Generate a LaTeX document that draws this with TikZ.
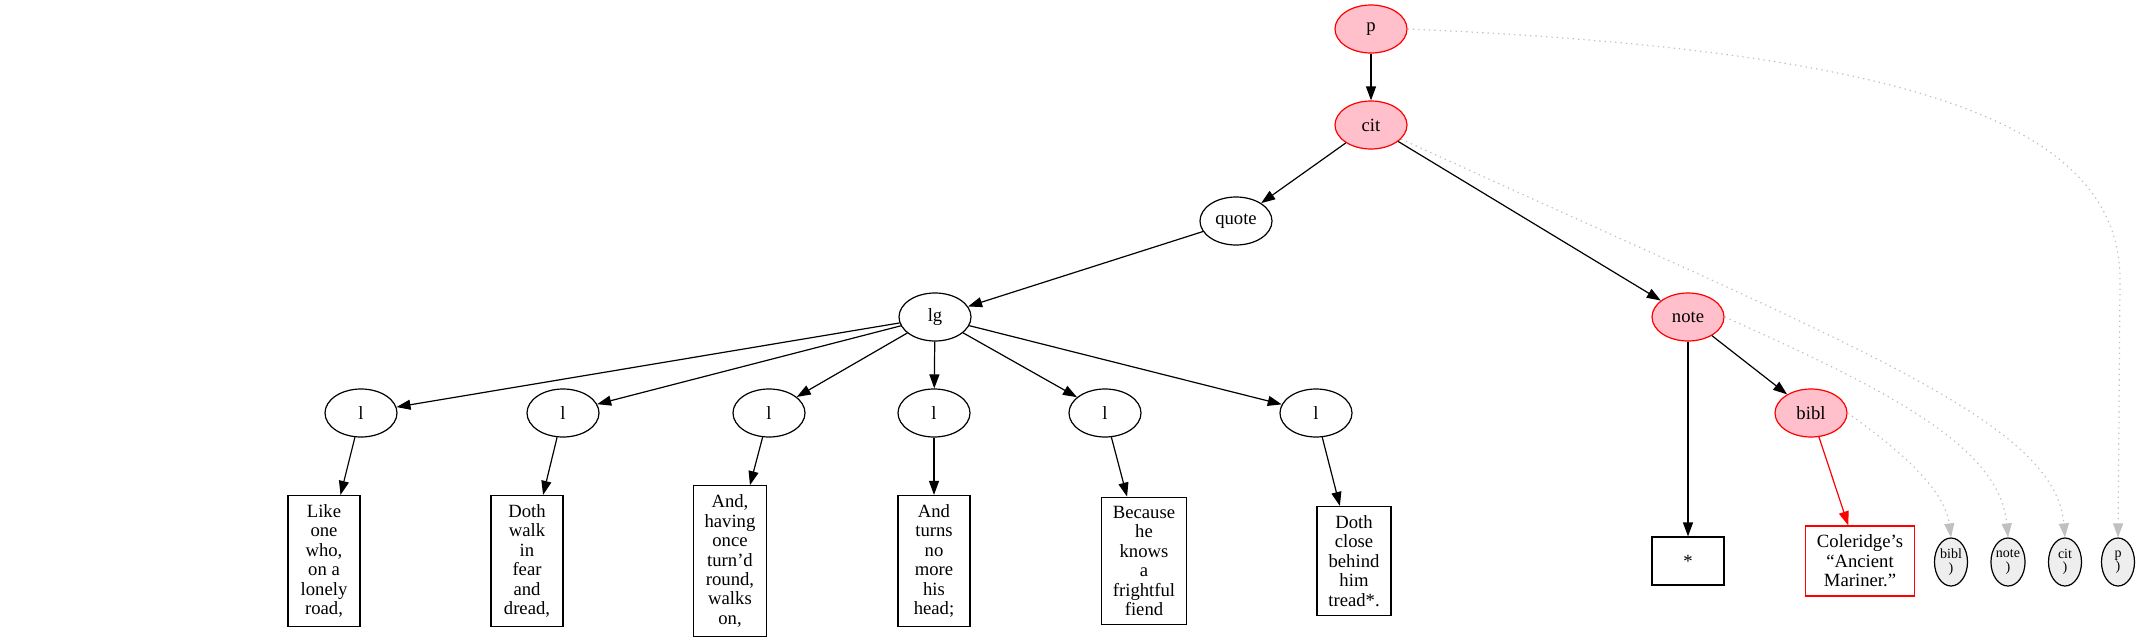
\documentclass[tikz,border=0pt]{standalone}
\usepackage{fontspec}
\setmainfont{Liberation Serif}
\usepackage{xcolor}
\usetikzlibrary{arrows.meta,shapes,calc,positioning}
\definecolor{pinkfill}{HTML}{FFC0CB}
\definecolor{endfill}{HTML}{EEEEEE}
\definecolor{trailgray}{HTML}{C0C0C0}

\begin{document}
\begin{tikzpicture}[x=0.75pt,y=-0.75pt]
		\tikzstyle{every node}=[font=\fontsize{14}{14.6}\selectfont]
		\tikzstyle{elt}=[ellipse, draw, line width=0.9pt, minimum width=54pt, minimum height=36pt, inner sep=1pt]
		\tikzstyle{hot}=[elt, draw=red, fill=pinkfill]
		\tikzstyle{txt}=[rectangle, draw, line width=0.9pt, align=center, minimum width=54pt, minimum height=36pt, inner xsep=8.5pt, inner ysep=6.7pt]
		\tikzstyle{closer}=[ellipse, draw, line width=0.9pt, fill=endfill, align=center, minimum width=24.75pt, minimum height=36pt, inner sep=0pt, font=\fontsize{10.5}{10}\selectfont]
		\tikzstyle{link}=[line width=0.9pt, -{Triangle[length=10.5pt,width=7.5pt]}]
		\tikzstyle{trail}=[line width=0.9pt, trailgray, dash pattern=on 1pt off 3pt, -{Triangle[length=10.5pt,width=7.5pt]}]
		\useasboundingbox (0,0) rectangle (2139,643);
		% element nodes
		\node [hot] (p) at (1371,29) {p};
		\node [hot] (cit) at (1371,125) {cit};
		\node [elt] (quote) at (1236,221) {quote};
		\node [elt] (lg) at (935,317) {lg};
		\node [hot] (note) at (1688,317) {note};
		\node [elt] (l1) at (361,413) {l};
		\node [elt] (l2) at (563,413) {l};
		\node [elt] (l3) at (769,413) {l};
		\node [elt] (l4) at (934,413) {l};
		\node [elt] (l5) at (1105,413) {l};
		\node [elt] (l6) at (1316,413) {l};
		\node [hot] (bibl) at (1811,413) {bibl};
		% text nodes
		\node [txt] (t1) at (324,561) {Like\\one\\who,\\on a\\lonely\\road,};
		\node [txt] (t2) at (527,561) {Doth\\walk\\in\\fear\\and\\dread,};
		\node [txt] (t3) at (730,561) {And,\\having\\once\\turn’d\\round,\\walks\\on,};
		\node [txt] (t4) at (934,561) {And\\turns\\no\\more\\his\\head;};
		\node [txt] (t5) at (1144,561) {Because\\he\\knows\\a\\frightful\\fiend};
		\node [txt] (t6) at (1354,561) {Doth\\close\\behind\\him\\tread*.};
		\node [txt] (star) at (1688,561) {*};
		\node [txt, draw=red] (ref) at (1860,561) {Coleridge’s\\“Ancient\\Mariner.”};
		% closing nodes
		\node [closer] (xbibl) at (1951,562) {bibl\\)};
		\node [closer] (xnote) at (2008,562) {note\\)};
		\node [closer] (xcit) at (2065,562) {cit\\)};
		\node [closer] (xp) at (2118,562) {p\\)};
		% tree edges
		\draw [link] (p) -- (cit);
		\draw [link] (cit) -- (quote);
		\draw [link] (cit) -- (note);
		\draw [link] (quote) -- (lg);
		\draw [link] (lg) -- (l1);
		\draw [link] (lg) -- (l2);
		\draw [link] (lg) -- (l3);
		\draw [link] (lg) -- (l4);
		\draw [link] (lg) -- (l5);
		\draw [link] (lg) -- (l6);
		\draw [link] (l1) -- (t1);
		\draw [link] (l2) -- (t2);
		\draw [link] (l3) -- (t3);
		\draw [link] (l4) -- (t4);
		\draw [link] (l5) -- (t5);
		\draw [link] (l6) -- (t6);
		\draw [link] (note) -- (star);
		\draw [link] (note) -- (bibl);
		\draw [link, red] (bibl) -- (ref);
		% closing trails
		\draw [trail] (p.east) .. controls (1900,50) and (2120,120) .. (2120,280) -- (xp.north);
		\draw [trail] (cit.-25) .. controls (1850,345) and (2055,420) .. (xcit.north);
		\draw [trail] (note.east) .. controls (1900,395) and (2000,450) .. (xnote.north);
		\draw [trail] (bibl.east) .. controls (1900,450) and (1945,490) .. (xbibl.north);
	\end{tikzpicture}
\end{document}
